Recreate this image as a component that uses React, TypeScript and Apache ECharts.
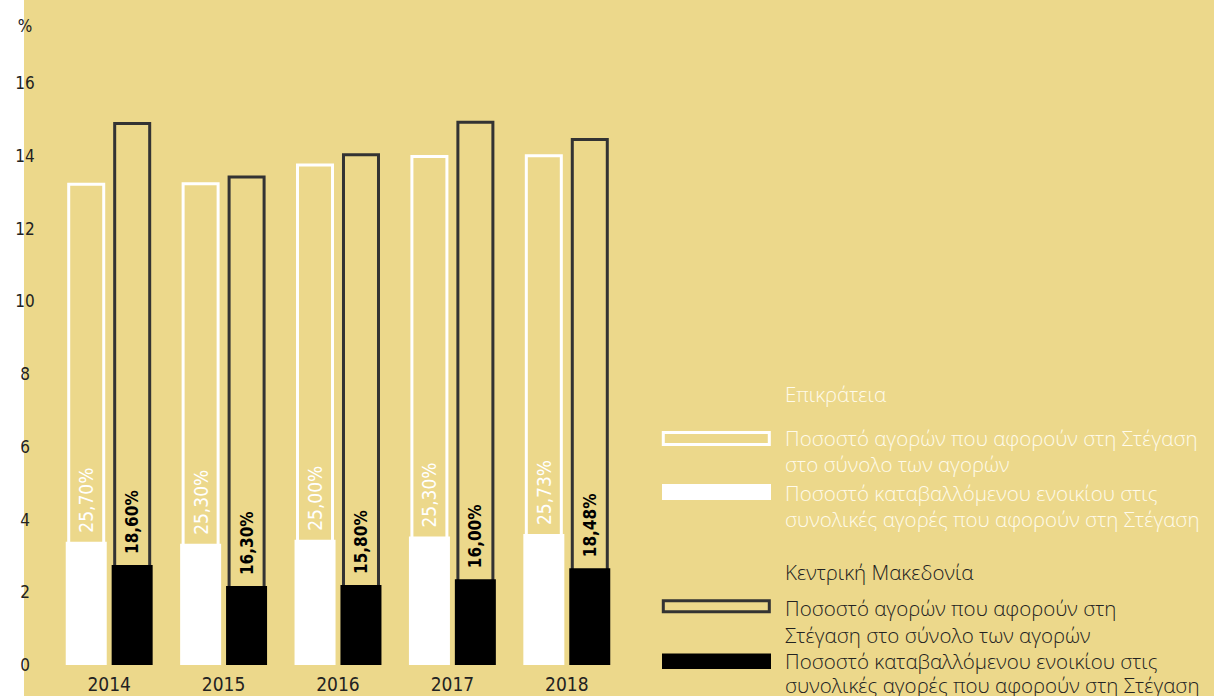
import React, { useEffect, useRef } from "react";
import * as echarts from "echarts";

const years = ["2014", "2015", "2016", "2017", "2018"];
// Outline bars: share of purchases related to housing (%)
const epikrateiaTotal = [13.26, 13.27, 13.79, 14.02, 14.04];
const makedoniaTotal = [14.93, 13.46, 14.07, 14.96, 14.49];
// Filled bars: rent paid part
const epikrateiaRent = [3.39, 3.33, 3.44, 3.53, 3.6];
const makedoniaRent = [2.75, 2.17, 2.2, 2.36, 2.66];
// Percent labels
const epikrateiaPct = ["25,70%", "25,30%", "25,00%", "25,30%", "25,73%"];
const makedoniaPct = ["18,60%", "16,30%", "15,80%", "16,00%", "18,48%"];

const yMin = 0;
const yMax = 16;
const yStep = 2;

const heading1 = "Επικράτεια";
const heading2 = "Κεντρική Μακεδονία";
const item1Lines = ["Ποσοστό αγορών που αφορούν στη Στέγαση", "στο σύνολο των αγορών"];
const item2Lines = ["Ποσοστό καταβαλλόμενου ενοικίου στις", "συνολικές αγορές που αφορούν στη Στέγαση"];
const item3Lines = ["Ποσοστό αγορών που αφορούν στη", "Στέγαση στο σύνολο των αγορών"];
const item4Lines = ["Ποσοστό καταβαλλόμενου ενοικίου στις", "συνολικές αγορές που αφορούν στη Στέγαση"];

const YELLOW = "#ecd88b";
const DARK = "#222222";
const OUTLINE_DARK = "#333333";
const LIGHT_TEXT = "#fffbea";
const NARROW = '"Liberation Sans Narrow", "DejaVu Sans Condensed", "Roboto", sans-serif';
const LEG_FONT = '"Open Sans", "Noto Sans", sans-serif';
const LEG_SIZE = 20.5;

// multi-line legend text; firstCenter = y of first line's centre
function block(arr: string[], x: number, firstCenter: number, lh: number, color: string) {
  return {
    type: "text",
    x,
    y: firstCenter - lh / 2,
    silent: true,
    style: {
      text: arr.join("\n"),
      fill: color,
      fontFamily: LEG_FONT,
      fontSize: LEG_SIZE,
      fontWeight: 300,
      lineHeight: lh,
      textAlign: "left",
      textVerticalAlign: "top",
    },
  };
}

export default function App() {
  const ref = useRef<HTMLDivElement>(null);

  useEffect(() => {
    if (!ref.current) return;
    const chart = echarts.init(ref.current, undefined, { renderer: "svg" });
    const textX = 785;
    const option: any = {
      animation: false,
      backgroundColor: "transparent",
      grid: { left: 52, right: 590, top: 83, bottom: 31, containLabel: false },
      xAxis: [
        {
          type: "category",
          data: years,
          axisLine: { show: false },
          axisTick: { show: false },
          axisLabel: {
            color: DARK,
            fontSize: 19,
            fontFamily: NARROW,
            margin: 9,
          },
        },
        {
          type: "category",
          data: years,
          show: false,
        },
      ],
      yAxis: {
        type: "value",
        min: yMin,
        max: yMax,
        interval: yStep,
        axisLine: { show: false },
        axisTick: { show: false },
        splitLine: { show: false },
        axisLabel: {
          color: DARK,
          fontSize: 17,
          fontFamily: NARROW,
          align: "center",
          margin: 27,
        },
      },
      series: [
        {
          name: "Επικράτεια - σύνολο",
          type: "bar",
          xAxisIndex: 0,
          data: epikrateiaTotal,
          barWidth: 38,
          barGap: "21%",
          silent: true,
          itemStyle: { color: "rgba(0,0,0,0)", borderColor: "#ffffff", borderWidth: 3 },
        },
        {
          name: "Κεντρική Μακεδονία - σύνολο",
          type: "bar",
          xAxisIndex: 0,
          data: makedoniaTotal,
          barWidth: 38,
          barGap: "21%",
          silent: true,
          itemStyle: { color: "rgba(0,0,0,0)", borderColor: OUTLINE_DARK, borderWidth: 3 },
        },
        {
          name: "Επικράτεια - ενοίκιο",
          type: "bar",
          xAxisIndex: 1,
          data: epikrateiaRent,
          barWidth: 41,
          barGap: "12%",
          z: 3,
          silent: true,
          itemStyle: { color: "#ffffff" },
          label: {
            show: true,
            position: "top",
            distance: 9,
            rotate: 90,
            align: "left",
            verticalAlign: "middle",
            color: "#ffffff",
            fontSize: 19,
            fontFamily: NARROW,
            formatter: (p: any) => epikrateiaPct[p.dataIndex],
          },
        },
        {
          name: "Κεντρική Μακεδονία - ενοίκιο",
          type: "bar",
          xAxisIndex: 1,
          data: makedoniaRent,
          barWidth: 41,
          barGap: "12%",
          z: 3,
          silent: true,
          itemStyle: { color: "#000000" },
          label: {
            show: true,
            position: "top",
            distance: 11,
            rotate: 90,
            align: "left",
            verticalAlign: "middle",
            color: "#000000",
            fontSize: 17,
            fontWeight: "bold",
            fontFamily: NARROW,
            formatter: (p: any) => makedoniaPct[p.dataIndex],
          },
        },
      ],
      graphic: [
        {
          type: "text",
          x: 25,
          y: 26,
          silent: true,
          style: {
            text: "%",
            fill: DARK,
            font: `17px ${NARROW}`,
            textAlign: "center",
            textVerticalAlign: "middle",
          },
        },
        block([heading1], textX, 394, 24, LIGHT_TEXT),
        {
          type: "rect",
          silent: true,
          shape: { x: 663.3, y: 432.5, width: 106, height: 12 },
          style: { fill: "rgba(0,0,0,0)", stroke: "#ffffff", lineWidth: 3 },
        },
        block(item1Lines, textX, 438, 26, LIGHT_TEXT),
        {
          type: "rect",
          silent: true,
          shape: { x: 662, y: 484, width: 109, height: 16 },
          style: { fill: "#ffffff" },
        },
        block(item2Lines, textX, 493, 25.5, LIGHT_TEXT),
        block([heading2], textX, 572, 24, DARK),
        {
          type: "rect",
          silent: true,
          shape: { x: 663.3, y: 600.8, width: 106, height: 11 },
          style: { fill: "rgba(0,0,0,0)", stroke: OUTLINE_DARK, lineWidth: 3 },
        },
        block(item3Lines, textX, 608, 26.5, DARK),
        {
          type: "rect",
          silent: true,
          shape: { x: 662, y: 653.5, width: 109, height: 15.5 },
          style: { fill: "#000000" },
        },
        block(item4Lines, textX, 660.5, 24, DARK),
      ],
    };
    chart.setOption(option);
    return () => chart.dispose();
  }, []);

  return (
    <div
      style={{
        position: "absolute",
        left: 0,
        top: 0,
        width: 1214,
        height: 696,
        background: `linear-gradient(to right, #ffffff 0px, #ffffff 24px, ${YELLOW} 24px, ${YELLOW} 100%)`,
      }}
    >
      <div ref={ref} style={{ width: 1214, height: 696 }} />
    </div>
  );
}
